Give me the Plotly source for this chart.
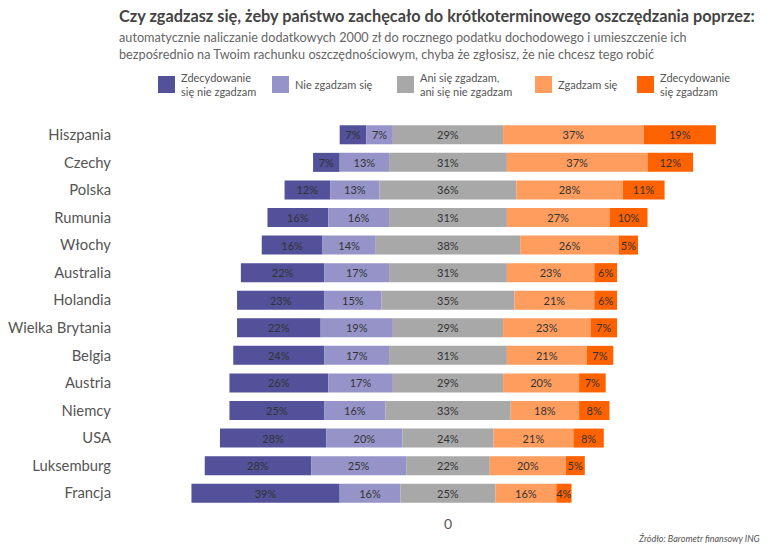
import plotly.graph_objects as go

countries = ["Hiszpania", "Czechy", "Polska", "Rumunia", "Włochy", "Australia", "Holandia",
             "Wielka Brytania", "Belgia", "Austria", "Niemcy", "USA", "Luksemburg", "Francja"]
strongly_disagree = [7, 7, 12, 16, 16, 22, 23, 22, 24, 26, 25, 28, 28, 39]
disagree = [7, 13, 13, 16, 14, 17, 15, 19, 17, 17, 16, 20, 25, 16]
neutral = [29, 31, 36, 31, 38, 31, 35, 29, 31, 29, 33, 24, 22, 25]
agree = [37, 37, 28, 27, 26, 23, 21, 23, 21, 20, 18, 21, 20, 16]
strongly_agree = [19, 12, 11, 10, 5, 6, 6, 7, 7, 7, 8, 8, 5, 4]

series_names = ["Zdecydowanie<br>się nie zgadzam", "Nie zgadzam się",
                "Ani się zgadzam,<br>ani się nie zgadzam", "Zgadzam się",
                "Zdecydowanie<br>się zgadzam"]
colors = ["#525199", "#9693c9", "#a8a8a8", "#ff9d5e", "#ff6200"]
FONT = "Lato"

# bases for diverging layout (neutral centered at 0)
b_neu = [-n / 2 for n in neutral]
b_dis = [-n / 2 - d for n, d in zip(neutral, disagree)]
b_sdis = [-n / 2 - d - s for n, d, s in zip(neutral, disagree, strongly_disagree)]
b_agr = [n / 2 for n in neutral]
b_sagr = [n / 2 + a for n, a in zip(neutral, agree)]

vals = [strongly_disagree, disagree, neutral, agree, strongly_agree]
bases = [b_sdis, b_dis, b_neu, b_agr, b_sagr]

fig = go.Figure()
for name, v, b, c in zip(series_names, vals, bases, colors):
    fig.add_trace(go.Bar(
        y=countries, x=v, base=b, orientation="h", name=name,
        marker=dict(color=c, line=dict(width=0)),
        text=[f"{x}%" for x in v], textposition="inside", insidetextanchor="middle",
        textangle=0, textfont=dict(size=11, color="#333333", family=FONT),
        width=0.69, showlegend=False, cliponaxis=False, hoverinfo="skip",
    ))

L, R, T, B = 120, 10, 121, 45
W, H = 770, 552
pw, ph = W - L - R, H - T - B


def px(x):
    return (x - L) / pw


def py(y):
    return (H - B - y) / ph


annotations = [
    dict(text="<b>Czy zgadzasz się, żeby państwo zachęcało do krótkoterminowego oszczędzania poprzez:</b>",
         x=px(117), y=py(16), xref="paper", yref="paper", xanchor="left", yanchor="middle",
         showarrow=False, font=dict(size=16.3, color="#444444", family=FONT)),
    dict(text="automatycznie naliczanie dodatkowych 2000 zł do rocznego podatku dochodowego i umieszczenie ich<br>"
              "bezpośrednio na Twoim rachunku oszczędnościowym, chyba że zgłosisz, że nie chcesz tego robić",
         x=px(117), y=py(46), xref="paper", yref="paper", xanchor="left", yanchor="middle", align="left",
         showarrow=False, font=dict(size=12.7, color="#666666", family=FONT)),
    dict(text="<i>Źródło: Barometr finansowy ING</i>",
         x=px(762), y=py(538), xref="paper", yref="paper", xanchor="right", yanchor="middle",
         showarrow=False, font=dict(size=9, color="#555555", family=FONT)),
]

shapes = []
leg_x = [158, 272, 397, 535, 637]
for lx, name, c in zip(leg_x, series_names, colors):
    shapes.append(dict(type="rect", xref="paper", yref="paper",
                       x0=px(lx), x1=px(lx + 17), y0=py(93), y1=py(76),
                       fillcolor=c, line=dict(width=0)))
    annotations.append(dict(text=name, x=px(lx + 21), y=py(85), xref="paper", yref="paper",
                            xanchor="left", yanchor="middle", align="left", showarrow=False,
                            font=dict(size=11, color="#555555", family=FONT)))

fig.update_layout(
    width=W, height=H, barmode="overlay",
    margin=dict(l=L, r=R, t=T, b=B, autoexpand=False),
    paper_bgcolor="white", plot_bgcolor="white",
    font=dict(family=FONT, color="#555555"),
    uniformtext=dict(minsize=11, mode="show"),
    hovermode=False,
    xaxis=dict(range=[-86.3, 82.1], tickvals=[0], ticktext=["0"], showgrid=False, zeroline=False,
               showline=False, tickfont=dict(size=14, color="#555555"), ticks="", automargin=False,
               ticklabelstandoff=7),
    yaxis=dict(autorange="reversed", showgrid=False, zeroline=False, showline=False, ticks="",
               tickfont=dict(size=14.8, color="#555555"), ticklabelstandoff=8, automargin=False),
    annotations=annotations, shapes=shapes,
)

fig.write_html("out.html", config={"displayModeBar": False, "staticPlot": True},
               post_script="document.body.style.margin='0';document.body.style.padding='0';")
